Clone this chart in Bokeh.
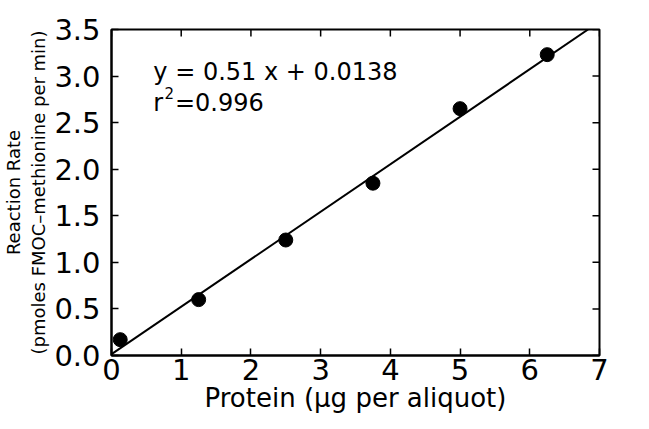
import math
from bokeh.plotting import figure
from bokeh.models import Range1d, Slope, Label, FixedTicker, PrintfTickFormatter
from bokeh.embed import file_html
from bokeh.resources import INLINE

# Data
protein = [0.125, 1.25, 2.5, 3.75, 5.0, 6.25]
rate = [0.17, 0.60, 1.24, 1.85, 2.65, 3.23]
fit_slope = 0.51
fit_intercept = 0.0138
r_squared = 0.996
x_ticks = [0, 1, 2, 3, 4, 5, 6, 7]
y_ticks = [0.0, 0.5, 1.0, 1.5, 2.0, 2.5, 3.0, 3.5]

FONT = "DejaVu Sans"
X_MIN, X_MAX, Y_MIN, Y_MAX = 0, 7, 0, 3.5

p = figure(width=633, height=421, output_backend="svg", toolbar_location=None,
           x_range=Range1d(X_MIN, X_MAX), y_range=Range1d(Y_MIN, Y_MAX),
           min_border_left=101, min_border_right=34, min_border_top=29, min_border_bottom=66)
p.grid.visible = False
p.outline_line_color = "black"
p.outline_line_width = 2
p.background_fill_color = "white"
p.border_fill_color = "white"

for ax in (p.xaxis[0], p.yaxis[0]):
    ax.major_tick_in = 7
    ax.major_tick_out = 0
    ax.minor_tick_in = 0
    ax.minor_tick_out = 0
    ax.axis_line_width = 2
    ax.major_tick_line_width = 1.5
    ax.major_label_text_font = FONT
    ax.major_label_text_color = "black"
    ax.axis_label_text_font = FONT
    ax.axis_label_text_font_style = "normal"
    ax.axis_label_text_color = "black"

p.xaxis.ticker = FixedTicker(ticks=x_ticks)
p.yaxis.ticker = FixedTicker(ticks=y_ticks)
p.yaxis.formatter = PrintfTickFormatter(format="%.1f")
p.xaxis.major_label_text_font_size = "29px"
p.yaxis.major_label_text_font_size = "29px"
p.xaxis.major_label_standoff = 3
p.yaxis.major_label_standoff = 11
p.xaxis.axis_label = "Protein (\u03bcg per aliquot)"
p.xaxis.axis_label_text_font_size = "26px"
p.xaxis.axis_label_standoff = 0
p.yaxis.axis_label = "Reaction Rate\n(pmoles FMOC\u2013methionine per min)"
p.yaxis.axis_label_text_font_size = "18px"
p.yaxis.axis_label_standoff = 2

# inward ticks on the top and right frame edges (half of each dash is clipped by the frame)
p.scatter(x_ticks, [Y_MAX] * len(x_ticks), marker="dash", size=14, angle=math.pi / 2,
          line_color="black", line_width=1.5)
p.scatter([X_MAX] * len(y_ticks), y_ticks, marker="dash", size=14,
          line_color="black", line_width=1.5)

p.add_layout(Slope(gradient=fit_slope, y_intercept=fit_intercept, line_color="black", line_width=2))
p.scatter(protein, rate, size=14, fill_color="black", line_color="black")

eq = "y = %.2f x + %.4f" % (fit_slope, fit_intercept)
p.add_layout(Label(x=0.60, y=3.04, text=eq, text_font=FONT, text_font_size="24px",
                   text_color="black", text_baseline="alphabetic"))
p.add_layout(Label(x=0.60, y=2.71, text="r", text_font=FONT, text_font_size="24px",
                   text_color="black", text_baseline="alphabetic"))
p.add_layout(Label(x=0.76, y=2.82, text="2", text_font=FONT, text_font_size="15px",
                   text_color="black", text_baseline="alphabetic"))
p.add_layout(Label(x=0.91, y=2.71, text="=%.3f" % r_squared, text_font=FONT, text_font_size="24px",
                   text_color="black", text_baseline="alphabetic"))

open("out.html", "w").write(file_html(p, INLINE))
